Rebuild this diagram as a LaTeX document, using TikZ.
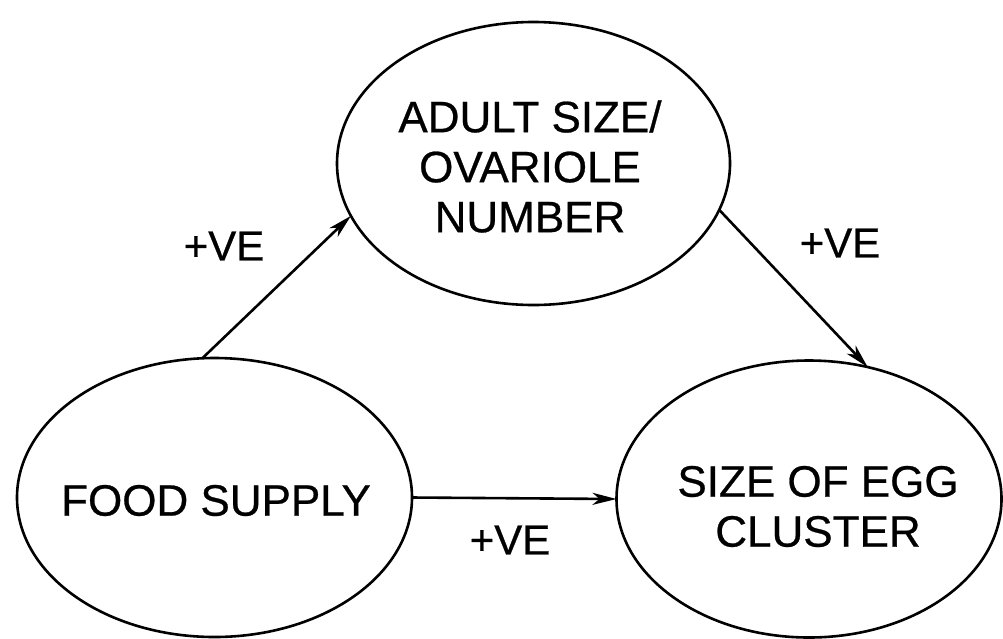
\documentclass[tikz,border=0pt]{standalone}
\usepackage{fontspec}
\setmainfont{Liberation Sans}[FakeBold=0.6]
\usetikzlibrary{shapes.geometric,arrows.meta}
\begin{document}
\begin{tikzpicture}[x=1pt,y=-1pt,
  blob/.style={ellipse,draw,line width=2.6pt,inner sep=0pt,outer sep=0pt},
  txt/.style={align=center,font=\fontsize{44}{50}\selectfont,inner sep=0pt},
  sign/.style={font=\fontsize{42}{48}\selectfont,inner sep=0pt},
  link/.style={line width=2.6pt,-{Stealth[length=24pt,width=12pt,inset=7pt]}}
]
\useasboundingbox (0,0) rectangle (1003,638);
\node[blob,minimum width=393pt,minimum height=283pt] (T) at (533.5,163.5) {};
\node[blob,minimum width=395pt,minimum height=279pt] (L) at (214.5,497.5) {};
\node[blob,minimum width=385pt,minimum height=277pt] (R) at (809,499) {};
\node[txt] (Tt) at (530,166.5) {ADULT SIZE/\\OVARIOLE\\NUMBER};
\node[txt] (Lt) at (216,500.5) {FOOD SUPPLY};
\node[txt] (Rt) at (818,506.5) {SIZE OF EGG\\CLUSTER};
\draw[link] (L.95) -- (T.196);
\draw[link] (T.346) -- (R.66.7);
\draw[link] (L.east) -- (R.west);
\node[sign] (s1) at (224,246) {+VE};
\node[sign] (s2) at (840,243) {+VE};
\node[sign] (s3) at (510,540) {+VE};
\end{tikzpicture}
\end{document}
